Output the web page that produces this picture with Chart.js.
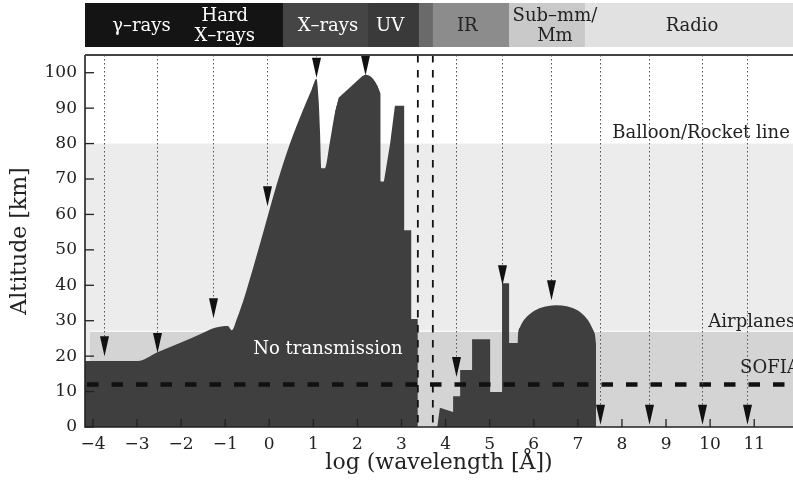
<!DOCTYPE html>
<html><head><meta charset="utf-8">
<script src="https://cdn.jsdelivr.net/npm/chart.js@4"></script>
<style>html,body{margin:0;padding:0;background:#fff;}canvas{display:block;}</style>
</head><body>
<canvas id="c" width="793" height="493"></canvas>
<script>
// ---------------- data (log wavelength [Å] , altitude [km]) ----------------
const riseX = [-4.2, -2.98, -2.55, -2.03, -1.57, -1.23, -0.94, -0.85, -0.73, -0.55, -0.33, -0.10, 0.17, 0.47, 0.76, 0.97, 1.07];
const riseY = [18.6, 18.6, 21.0, 23.7, 26.2, 28.0, 28.5, 27.3, 30.7, 37.2, 46.5, 56.6, 68.5, 80.0, 89.3, 95.5, 98.3];
const dipX = [0.97, 1.07, 1.12, 1.15, 1.18, 1.26, 1.38, 1.49, 1.58];
const dipY = [95.5, 98.3, 92.1, 83.7, 73.0, 73.0, 80.8, 88.7, 93.0];
const ridgeX = [1.49, 1.58, 2.10, 2.19];
const ridgeY = [88.7, 93.0, 98.9, 99.4];
const capX = [2.10, 2.19, 2.33, 2.44, 2.52];
const capY = [98.9, 99.4, 98.6, 96.6, 94.1];
const uvStepX = [2.44, 2.52, 2.52, 2.60, 2.74, 2.85, 3.06, 3.06, 3.22, 3.22, 3.37, 3.37];
const uvStepY = [96.6, 94.1, 69.3, 69.3, 79.9, 90.7, 90.7, 55.5, 55.5, 30.5, 30.5, 0];
const irStepX = [3.81, 3.87, 4.17, 4.17, 4.33, 4.33, 4.60, 4.60, 5.01, 5.01, 5.28, 5.28, 5.44, 5.44, 7.41, 7.41];
const irStepY = [0, 5.4, 4.2, 8.7, 8.7, 16.1, 16.1, 24.8, 24.8, 9.9, 9.9, 40.6, 40.6, 23.7, 23.7, 0];
const domeX = [5.63, 5.64, 5.69, 5.84, 6.07, 6.30, 6.52, 6.75, 6.98, 7.20, 7.35, 7.39, 7.41];
const domeY = [23.6, 25.9, 28.2, 31.1, 33.2, 34.1, 34.4, 34.1, 33.0, 30.6, 27.3, 25.9, 23.6];

const arrowX   = [-3.75, -2.55, -1.28, -0.05, 1.06, 2.17, 4.24, 5.28, 6.39, 7.50, 8.62, 9.82, 10.84];
const arrowTip = [20.0, 20.9, 30.7, 62.3, 98.6, 99.2, 14.1, 40.0, 35.8, 0.6, 0.6, 0.6, 0.6];

const bandLabels = ['γ–rays', 'Hard\nX–rays', 'X–rays', 'UV', '', 'IR', 'Sub–mm/\nMm', 'Radio'];
const bandFrom   = [-4.18, -1.9, 0.31, 2.24, 3.40, 3.71, 5.44, 7.16];
const bandTo     = [-1.9, 0.31, 2.24, 3.40, 3.71, 5.44, 7.16, 11.88];
const bandLabelAt = [-2.9, -1.01, 1.33, 2.74, 3.55, 4.49, 6.48, 9.59];

const balloonTop = 80;
const airplaneTop = 27;
const airplaneFrom = -4.07;
const sofiaAlt = 12;
const visibleEdges = [3.37, 3.71];

const zoneLabels = ['Balloon/Rocket line', 'Airplanes', 'SOFIA'];
const zoneLabelX = [7.78, 9.96, 10.68];
const zoneLabelY = [82.8, 29.6, 16.6];
const noTransLabel = 'No transmission';
const noTransAt = [1.33, 22.0];

const xMin = -4.18, xMax = 11.88, yMin = 0, yMax = 105;

// ---------------- styles ----------------
const DARK = '#3f3f3f';
const SERIF = "'DejaVu Serif', serif";
const bandColors = ['#141414', '#141414', '#454545', '#3a3a3a', '#6a6a6a', '#8c8c8c', '#c9c9c9', '#e1e1e1'];
const bandText   = ['#fff', '#fff', '#fff', '#fff', '#fff', '#222', '#222', '#222'];

const pts = (xs, ys) => xs.map((x, i) => ({x, y: ys[i]}));
const piece = (xs, ys, smooth) => ({
  data: pts(xs, ys), fill: 'origin', backgroundColor: DARK, borderWidth: 0,
  borderColor: DARK, pointRadius: 0,
  cubicInterpolationMode: smooth ? 'monotone' : 'default', tension: 0
});

const px = (c, v) => c.scales.x.getPixelForValue(v);
const py = (c, v) => c.scales.y.getPixelForValue(v);

const decor = {
  id: 'decor',
  beforeDraw(c) {
    const {ctx, chartArea: a} = c;
    ctx.save();
    ctx.fillStyle = '#fff'; ctx.fillRect(0, 0, c.width, c.height);
    const yB = py(c, balloonTop), y0 = py(c, 0);
    ctx.fillStyle = '#ececec';
    ctx.fillRect(a.left, yB, a.right - a.left, y0 - yB);
    const yA = py(c, airplaneTop), xA = px(c, airplaneFrom);
    ctx.fillStyle = '#d4d4d4';
    ctx.fillRect(xA, yA, a.right - xA, y0 - yA);
    ctx.strokeStyle = '#f7f7f7'; ctx.lineWidth = 1.5;
    ctx.beginPath(); ctx.moveTo(xA, yA); ctx.lineTo(a.right, yA); ctx.stroke();
    ctx.restore();
  },
  afterDatasetsDraw(c) {
    const {ctx, chartArea: a} = c;
    ctx.save();
    // visible window dashed lines
    ctx.strokeStyle = '#111'; ctx.lineWidth = 1.8; ctx.setLineDash([7.5, 7.5]);
    visibleEdges.forEach(v => {
      const x = px(c, v);
      ctx.beginPath(); ctx.moveTo(x, a.top); ctx.lineTo(x, a.bottom); ctx.stroke();
    });
    // SOFIA line
    ctx.lineWidth = 4.5; ctx.setLineDash([11.5, 13]);
    const ys = py(c, sofiaAlt);
    ctx.beginPath(); ctx.moveTo(a.left + 2, ys); ctx.lineTo(a.right, ys); ctx.stroke();
    // arrows
    ctx.strokeStyle = '#555'; ctx.lineWidth = 1; ctx.setLineDash([1.5, 2.5]);
    arrowX.forEach((v, i) => {
      const x = Math.round(px(c, v)) + 0.5, tip = py(c, arrowTip[i]);
      ctx.beginPath(); ctx.moveTo(x, a.top); ctx.lineTo(x, tip - 19); ctx.stroke();
    });
    ctx.setLineDash([]); ctx.fillStyle = '#111';
    arrowX.forEach((v, i) => {
      const x = Math.round(px(c, v)) + 0.5, tip = py(c, arrowTip[i]);
      ctx.beginPath(); ctx.moveTo(x - 4.5, tip - 20); ctx.lineTo(x + 4.5, tip - 20); ctx.lineTo(x, tip);
      ctx.closePath(); ctx.fill();
    });
    // inner ticks
    ctx.strokeStyle = '#222'; ctx.lineWidth = 1.3;
    c.scales.x.ticks.forEach(t => {
      const x = px(c, t.value);
      ctx.beginPath(); ctx.moveTo(x, a.bottom); ctx.lineTo(x, a.bottom - 8); ctx.stroke();
    });
    c.scales.y.ticks.forEach(t => {
      const y = py(c, t.value);
      ctx.beginPath(); ctx.moveTo(a.left, y); ctx.lineTo(a.left + 9, y); ctx.stroke();
    });
    // texts
    ctx.font = '18px ' + SERIF; ctx.textBaseline = 'middle'; ctx.textAlign = 'left';
    ctx.fillStyle = '#222';
    zoneLabels.forEach((t, i) => ctx.fillText(t, px(c, zoneLabelX[i]), py(c, zoneLabelY[i])));
    ctx.fillStyle = '#fff'; ctx.textAlign = 'center';
    ctx.fillText(noTransLabel, px(c, noTransAt[0]), py(c, noTransAt[1]));
    ctx.restore();
  },
  afterDraw(c) {
    const {ctx, chartArea: a} = c;
    ctx.save();
    // frame
    ctx.strokeStyle = '#222'; ctx.lineWidth = 1.6;
    ctx.beginPath(); ctx.moveTo(a.left, a.top); ctx.lineTo(a.left, a.bottom); ctx.lineTo(a.right, a.bottom); ctx.stroke();
    ctx.strokeStyle = '#444'; ctx.lineWidth = 2;
    ctx.beginPath(); ctx.moveTo(a.left, a.top); ctx.lineTo(a.right, a.top); ctx.stroke();
    // spectral band
    const top = 3, bot = 47;
    bandFrom.forEach((v, i) => {
      const x0 = px(c, v), x1 = px(c, bandTo[i]);
      ctx.fillStyle = bandColors[i];
      ctx.fillRect(x0, top, x1 - x0 + 0.5, bot - top);
    });
    ctx.font = '18px ' + SERIF; ctx.textAlign = 'center'; ctx.textBaseline = 'middle';
    bandLabels.forEach((t, i) => {
      if (!t) return;
      ctx.fillStyle = bandText[i];
      const lines = t.split('\n'), x = px(c, bandLabelAt[i]);
      if (lines.length === 1) ctx.fillText(lines[0], x, 26);
      else { ctx.fillText(lines[0], x, 16); ctx.fillText(lines[1], x, 36); }
    });
    ctx.restore();
  }
};

new Chart(document.getElementById('c'), {
  type: 'line',
  data: {
    datasets: [
      piece(riseX, riseY, true),
      piece(dipX, dipY, true),
      piece(ridgeX, ridgeY, false),
      piece(capX, capY, true),
      piece(uvStepX, uvStepY, false),
      piece(irStepX, irStepY, false),
      piece(domeX, domeY, true)
    ]
  },
  options: {
    responsive: false, animation: false, devicePixelRatio: 1,
    layout: {padding: {top: 55, left: 0, right: 0, bottom: 0}},
    plugins: {legend: {display: false}, tooltip: {enabled: false}},
    font: {family: SERIF},
    scales: {
      x: {
        type: 'linear', min: xMin, max: xMax,
        grid: {display: false, drawTicks: false}, border: {display: false},
        ticks: {stepSize: 1, includeBounds: false, padding: 7, color: '#222', maxRotation: 0,
          font: {family: SERIF, size: 17},
          callback: v => String(v).replace('-', '−')},
        title: {display: true, text: 'log (wavelength [Å])', color: '#222',
          font: {family: SERIF, size: 22}, padding: {top: 0, bottom: 17}},
        afterFit: s => { s.height = 66; }
      },
      y: {
        min: yMin, max: yMax,
        grid: {display: false, drawTicks: false}, border: {display: false},
        ticks: {stepSize: 10, includeBounds: false, padding: 8, color: '#222',
          font: {family: SERIF, size: 17}},
        title: {display: true, text: 'Altitude [km]', color: '#222',
          font: {family: SERIF, size: 22}, padding: {top: 7, bottom: 0}},
        afterFit: s => { s.width = 85; }
      }
    }
  },
  plugins: [decor]
});
</script>
</body></html>
